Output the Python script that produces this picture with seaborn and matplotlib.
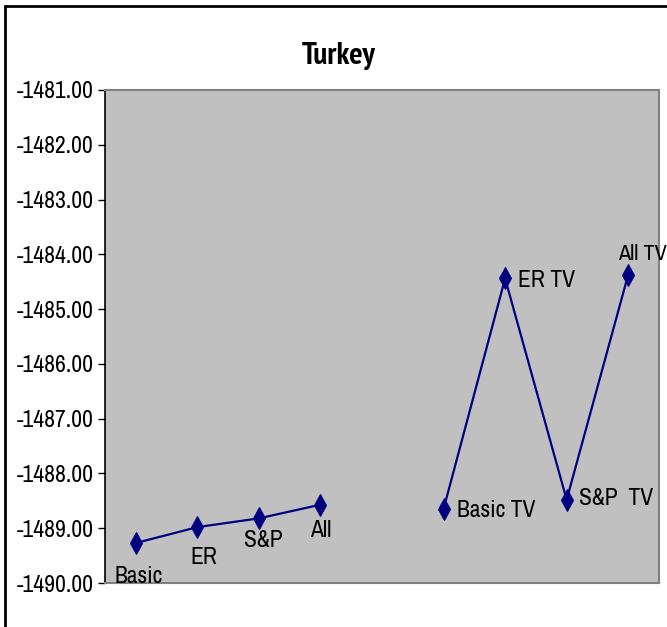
import matplotlib
matplotlib.use("Agg")
import matplotlib.pyplot as plt
from matplotlib.patches import Rectangle
from matplotlib.ticker import FormatStrFormatter
import pandas as pd
import numpy as np
import seaborn as sns

# Model labels along the x axis; the empty slot separates the two model families
categories = ["Basic", "ER", "S&P", "All", "", "Basic TV", "ER TV", "S&P  TV", "All TV"]
# Log-likelihood values for each model (NaN in the empty slot)
values = [-1489.27, -1488.98, -1488.82, -1488.57, np.nan,
          -1488.65, -1484.44, -1488.48, -1484.37]
family = ["base", "base", "base", "base", None, "tv", "tv", "tv", "tv"]

y_ticks = [-1490, -1489, -1488, -1487, -1486, -1485, -1484, -1483, -1482, -1481]

sns.set_theme(style="white")
plt.rcParams["font.family"] = ["Archivo Narrow", "Liberation Sans", "DejaVu Sans"]
plt.rcParams["axes.unicode_minus"] = False

df = pd.DataFrame({"pos": np.arange(len(categories)), "label": categories,
                   "value": values, "family": family}).dropna()

fig = plt.figure(figsize=(6.67, 6.27), dpi=100)
fig.patch.set_facecolor("white")
ax = fig.add_axes([105 / 667, 1 - 583 / 627, 554 / 667, 493 / 627])
ax.set_facecolor("#C0C0C0")

navy = "#000080"
sns.lineplot(data=df, x="pos", y="value", units="family", estimator=None,
             color=navy, linewidth=1.6, marker="d", markersize=11,
             markeredgecolor=navy, markerfacecolor=navy, ax=ax, legend=False)

# Point labels: (dx, dy) offsets in pixels, alignment and font size
offsets = {
    "Basic": (3, -33, "center", 17),
    "ER": (6, -30, "center", 17),
    "S&P": (4, -22, "center", 17),
    "All": (0, -26, "center", 17),
    "Basic TV": (13, -1, "left", 17),
    "ER TV": (13, -2, "left", 17),
    "S&P  TV": (12, 1, "left", 17),
    "All TV": (-10, 21, "left", 16),
}
for _, row in df.iterrows():
    dx, dy, ha, fs = offsets[row["label"]]
    ax.annotate(row["label"], (row["pos"], row["value"]),
                xytext=(dx * 0.72, dy * 0.72), textcoords="offset points",
                ha=ha, va="center", fontsize=fs, color="black",
                annotation_clip=False)

ax.set_xlim(-0.5, len(categories) - 0.5)
ax.set_ylim(-1490, -1481)
ax.set_yticks(y_ticks)
ax.yaxis.set_major_formatter(FormatStrFormatter("%.2f"))
ax.set_xticks([])
ax.set_xlabel("")
ax.set_ylabel("")
ax.tick_params(axis="y", which="major", left=True, direction="out", length=5,
               width=1, color="black", labelsize=17, pad=3, labelcolor="black")

for side in ["top", "right", "bottom"]:
    ax.spines[side].set_visible(True)
    ax.spines[side].set_color("#808080")
    ax.spines[side].set_linewidth(1.5)
ax.spines["left"].set_color("black")
ax.spines["left"].set_linewidth(1.2)

fig.text(339 / 667, 1 - 64 / 627, "Turkey", ha="center", va="baseline",
         fontsize=22.5, fontweight="bold", color="black",
         family=["PT Sans Narrow", "Archivo Narrow", "DejaVu Sans"])

# Chart area border
fig.add_artist(Rectangle((5 / 667, -0.2), 1.2, 1 - 6 / 627 + 0.2,
                         transform=fig.transFigure, fill=False,
                         edgecolor="black", linewidth=2))

fig.savefig("out.png", dpi=100, facecolor="white")
